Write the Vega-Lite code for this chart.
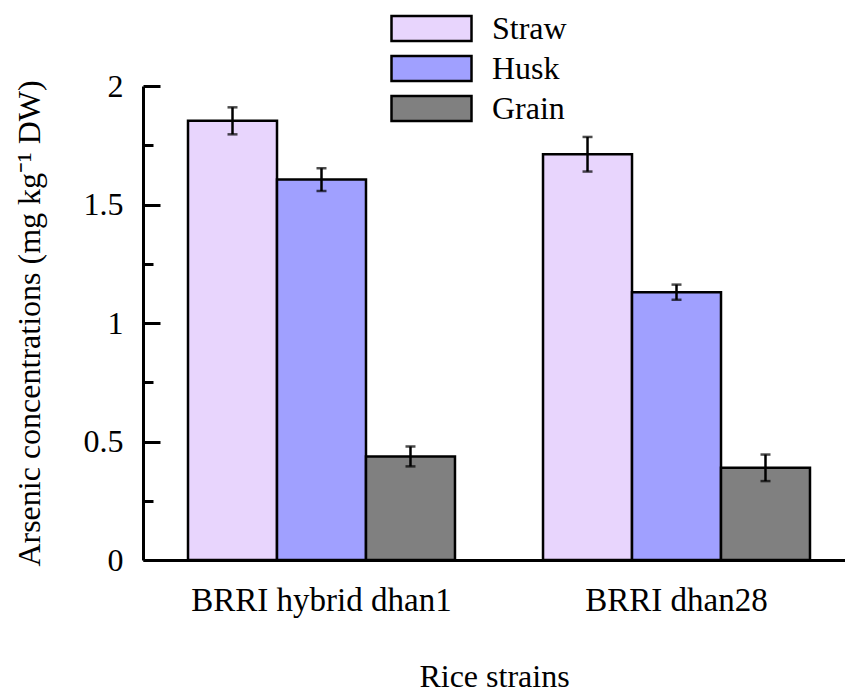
{
  "$schema": "https://vega.github.io/schema/vega-lite/v6.json",
  "width": 702,
  "height": 474,
  "autosize": "none",
  "padding": {"left": 143, "top": 86, "right": 0, "bottom": 135},
  "background": "white",
  "config": {"view": {"stroke": null}, "font": "Liberation Serif"},
  "data": {
    "values": [
      {"strain": "BRRI hybrid dhan1", "part": "Straw", "mean": 1.853, "lo": 1.796, "hi": 1.910},
      {"strain": "BRRI hybrid dhan1", "part": "Husk", "mean": 1.605, "lo": 1.557, "hi": 1.653},
      {"strain": "BRRI hybrid dhan1", "part": "Grain", "mean": 0.437, "lo": 0.395, "hi": 0.479},
      {"strain": "BRRI dhan28", "part": "Straw", "mean": 1.712, "lo": 1.639, "hi": 1.785},
      {"strain": "BRRI dhan28", "part": "Husk", "mean": 1.130, "lo": 1.098, "hi": 1.162},
      {"strain": "BRRI dhan28", "part": "Grain", "mean": 0.389, "lo": 0.333, "hi": 0.445}
    ]
  },
  "encoding": {
    "x": {
      "field": "strain", "type": "nominal",
      "sort": ["BRRI hybrid dhan1", "BRRI dhan28"],
      "scale": {"paddingInner": 0.248, "paddingOuter": 0.1127, "align": 0.5625},
      "axis": {
        "title": "Rice strains", "titleFontSize": 32, "titleFontWeight": "normal", "titleFont": "Liberation Serif", "titleColor": "black",
        "titlePadding": 44, "labelFontSize": 33, "labelFont": "Liberation Serif", "labelColor": "black", "labelAngle": 0,
        "labelLimit": 0, "labelPadding": 24, "ticks": false, "domainColor": "black", "domainWidth": 3
      }
    },
    "xOffset": {"field": "part", "type": "nominal", "sort": ["Straw", "Husk", "Grain"], "scale": {"paddingInner": 0, "paddingOuter": 0}}
  },
  "resolve": {"axis": {"y": "independent"}},
  "layer": [
    {
      "mark": {"type": "bar", "stroke": "black", "strokeWidth": 2.5},
      "encoding": {
        "y": {
          "field": "mean", "type": "quantitative",
          "scale": {"domain": [0, 2], "nice": false},
          "axis": {
            "title": "Arsenic concentrations (mg kg⁻¹ DW)", "titleFontSize": 32, "titleFontWeight": "normal", "titleFont": "Liberation Serif", "titleColor": "black",
            "titlePadding": 37,
            "values": [0, 0.5, 1, 1.5, 2], "format": "~g",
            "labelFontSize": 32, "labelFont": "Liberation Serif", "labelColor": "black",
            "labelPadding": 37, "grid": false,
            "tickSize": -17,
            "tickWidth": 3, "tickColor": "black", "domainColor": "black", "domainWidth": 3
          }
        },
        "color": {
          "field": "part", "type": "nominal", "sort": ["Straw", "Husk", "Grain"],
          "scale": {"domain": ["Straw", "Husk", "Grain"], "range": ["#E8D5FD", "#A0A0FF", "#808080"]},
          "legend": {
            "title": null, "orient": "none", "legendX": 271, "legendY": -75, "padding": 0,
            "symbolType": "M-2.5,-0.78H2.5V0.78H-2.5Z", "symbolSize": 1024,
            "symbolStrokeColor": "black", "symbolStrokeWidth": 2.5, "symbolOpacity": 1,
            "labelFontSize": 32, "labelFont": "Liberation Serif", "labelColor": "black", "labelOffset": 43,
            "rowPadding": 5
          }
        }
      }
    },
    {
      "mark": {"type": "rule", "strokeWidth": 2.5, "color": "black"},
      "encoding": {
        "y": {
          "field": "lo", "type": "quantitative",
          "axis": {
            "orient": "left", "title": null, "values": [0.25, 0.75, 1.25, 1.75], "labels": false, "domain": false,
            "grid": false, "tickSize": -10, "tickWidth": 3, "tickColor": "black"
          }
        },
        "y2": {"field": "hi"}
      }
    },
    {
      "mark": {"type": "tick", "thickness": 2.5, "size": 10, "color": "black"},
      "encoding": {"y": {"field": "lo", "type": "quantitative", "axis": null}}
    },
    {
      "mark": {"type": "tick", "thickness": 2.5, "size": 10, "color": "black"},
      "encoding": {"y": {"field": "hi", "type": "quantitative", "axis": null}}
    }
  ]
}
